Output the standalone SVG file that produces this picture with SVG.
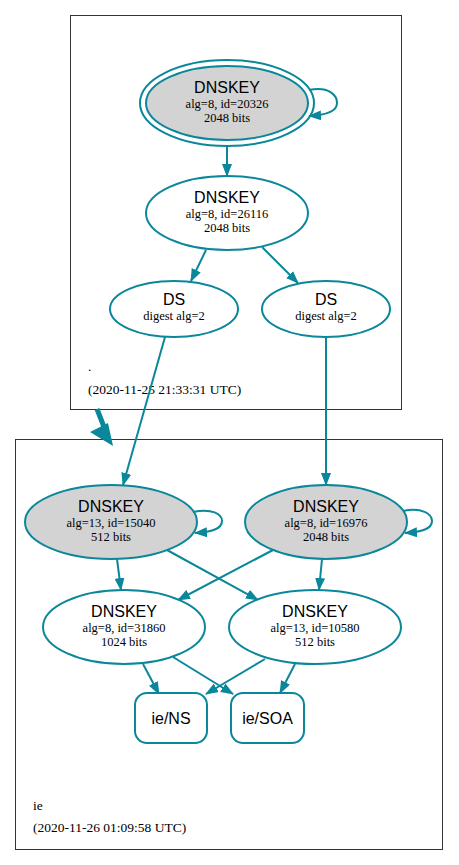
<svg xmlns="http://www.w3.org/2000/svg" width="459" height="865" viewBox="0 0 459 865">
<style>
.cl{fill:none;stroke:#333;stroke-width:1}
.n{fill:#fff;stroke:#0a879a;stroke-width:2}
.o{fill:none;stroke:#0a879a;stroke-width:2}
.f{fill:#d3d3d3;stroke:#0a879a;stroke-width:2}
.e{fill:none;stroke:#0a879a;stroke-width:2;marker-end:url(#ah)}
.t1{font-family:"Liberation Sans",Arial,sans-serif;font-size:16px;text-anchor:middle;fill:#000}
.t2{font-family:"Liberation Serif","Times New Roman",serif;font-size:12.5px;text-anchor:middle;fill:#000}
.lb{font-family:"Liberation Serif","Times New Roman",serif;font-size:13.5px;fill:#000}
</style>
<defs>
<marker id="ah" viewBox="0 0 13 10" refX="12" refY="5" markerWidth="13" markerHeight="10" markerUnits="userSpaceOnUse" orient="auto">
<path d="M0,0 L13,5 L0,10 z" fill="#0a879a"/>
</marker>
</defs>
<rect width="459" height="865" fill="#fff"/>
<g id="cluster_root">
<rect class="cl" x="70.5" y="15.5" width="331" height="394"/>
<text class="lb" x="88" y="371">.</text>
<text class="lb" x="88" y="394">(2020-11-25 21:33:31 UTC)</text>
</g>
<g id="cluster_ie">
<rect class="cl" x="15.5" y="439.5" width="427" height="410"/>
<text class="lb" x="33" y="810">ie</text>
<text class="lb" x="33" y="832">(2020-11-26 01:09:58 UTC)</text>
</g>
<g id="edges">
<path class="e" d="M309,90 C330,86 337,96 337,103 C337,111 328,115 309,116"/>
<path class="e" d="M227,146 L227,176"/>
<path class="e" d="M206,250 L191,281"/>
<path class="e" d="M262,247 L298,283"/>
<path class="e" d="M165,337 L123,485"/>
<path class="e" d="M326,337 L326,485"/>
<path class="e" d="M193,512 C212,508 222,514 222,521 C222,529 212,532 195,533"/>
<path class="e" d="M403,511 C422,507 432,514 432,521 C432,529 422,532 405,533"/>
<path class="e" d="M117,559 L121,590"/>
<path class="e" d="M167,550 L258,600"/>
<path class="e" d="M273,550 L178,600"/>
<path class="e" d="M322,559 L319,590"/>
<path class="e" d="M143,664 L159,694"/>
<path class="e" d="M173,657 L233,694"/>
<path class="e" d="M265,659 L206,694"/>
<path class="e" d="M295,664 L280,693"/>
<path d="M97,409 L104,427" fill="none" stroke="#0a879a" stroke-width="5"/>
<polygon points="90,432 108,423 113,446" fill="#0a879a"/>
</g>
<g id="dnskey_20326">
<ellipse class="f" cx="227" cy="103" rx="81" ry="37"/>
<ellipse class="o" cx="227" cy="103" rx="87" ry="43"/>
<text class="t1" x="227" y="93">DNSKEY</text>
<text class="t2" x="227" y="107.5">alg=8, id=20326</text>
<text class="t2" x="227" y="121.5">2048 bits</text>
</g>
<g id="dnskey_26116">
<ellipse class="n" cx="227" cy="213" rx="81" ry="37"/>
<text class="t1" x="227" y="203">DNSKEY</text>
<text class="t2" x="227" y="217.5">alg=8, id=26116</text>
<text class="t2" x="227" y="231.5">2048 bits</text>
</g>
<g id="ds_left">
<ellipse class="n" cx="174" cy="309" rx="64" ry="28"/>
<text class="t1" x="174" y="304.5">DS</text>
<text class="t2" x="174" y="319.5">digest alg=2</text>
</g>
<g id="ds_right">
<ellipse class="n" cx="326" cy="309" rx="64" ry="28"/>
<text class="t1" x="326" y="304.5">DS</text>
<text class="t2" x="326" y="319.5">digest alg=2</text>
</g>
<g id="dnskey_15040">
<ellipse class="f" cx="111" cy="522" rx="86" ry="37"/>
<text class="t1" x="111" y="512">DNSKEY</text>
<text class="t2" x="111" y="526.5">alg=13, id=15040</text>
<text class="t2" x="111" y="540.5">512 bits</text>
</g>
<g id="dnskey_16976">
<ellipse class="f" cx="326" cy="522" rx="81" ry="37"/>
<text class="t1" x="326" y="512">DNSKEY</text>
<text class="t2" x="326" y="526.5">alg=8, id=16976</text>
<text class="t2" x="326" y="540.5">2048 bits</text>
</g>
<g id="dnskey_31860">
<ellipse class="n" cx="124" cy="627" rx="81" ry="37"/>
<text class="t1" x="124" y="617">DNSKEY</text>
<text class="t2" x="124" y="631.5">alg=8, id=31860</text>
<text class="t2" x="124" y="645.5">1024 bits</text>
</g>
<g id="dnskey_10580">
<ellipse class="n" cx="315" cy="627" rx="86" ry="37"/>
<text class="t1" x="315" y="617">DNSKEY</text>
<text class="t2" x="315" y="631.5">alg=13, id=10580</text>
<text class="t2" x="315" y="645.5">512 bits</text>
</g>
<g id="ie_ns">
<rect class="n" x="135" y="693" width="72" height="50" rx="12"/>
<text class="t1" x="171" y="724">ie/NS</text>
</g>
<g id="ie_soa">
<rect class="n" x="231" y="693" width="73" height="50" rx="12"/>
<text class="t1" x="267.5" y="724">ie/SOA</text>
</g>
</svg>
